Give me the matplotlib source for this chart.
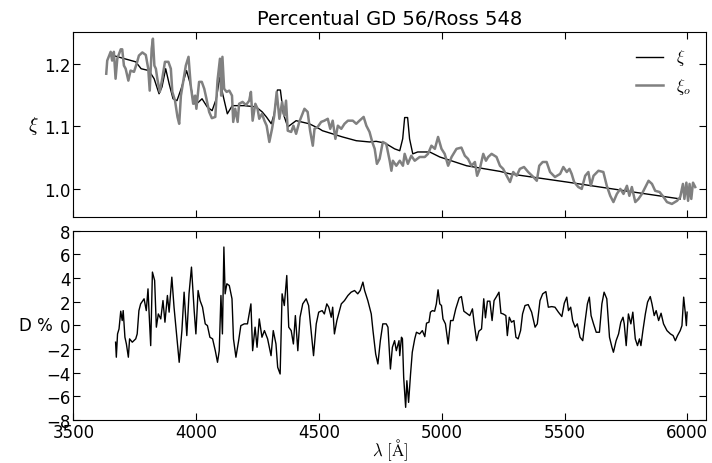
import matplotlib
matplotlib.use('Agg')
import matplotlib.pyplot as plt

plt.rcParams['mathtext.fontset'] = 'cm'
plt.rcParams['font.size'] = 12

# model xi (smooth continuum with Balmer bumps)
wl_model = [3672, 3754, 3776, 3808, 3829, 3849, 3861, 3876, 3890, 3906, 3922, 3939, 3961, 3976,
            3992, 4008, 4024, 4045, 4065, 4082, 4096, 4108, 4127, 4147, 4196, 4244, 4269, 4286,
            4306, 4318, 4331, 4343, 4355, 4373, 4407, 4461, 4502, 4514, 4596, 4652, 4706, 4733,
            4759, 4774, 4808, 4829, 4841, 4849, 4861, 4869, 4882, 4902, 4951, 4992, 5101, 5237,
            5278, 5509, 5780, 5971]
xi_model = [1.212, 1.203, 1.192, 1.189, 1.176, 1.152, 1.163, 1.192, 1.168, 1.144, 1.141, 1.160,
            1.189, 1.168, 1.136, 1.138, 1.144, 1.131, 1.125, 1.144, 1.178, 1.152, 1.120, 1.133,
            1.133, 1.131, 1.123, 1.115, 1.104, 1.120, 1.158, 1.158, 1.120, 1.099, 1.109, 1.104,
            1.096, 1.093, 1.083, 1.077, 1.075, 1.076, 1.074, 1.072, 1.064, 1.061, 1.080, 1.114,
            1.114, 1.080, 1.056, 1.059, 1.059, 1.051, 1.037, 1.028, 1.024, 1.011, 0.995, 0.984]

# observed xi_o
wl_obs = [3634, 3638, 3652, 3658, 3665, 3672, 3679, 3693, 3699, 3706, 3713, 3724, 3733, 3747,
          3760, 3767, 3781, 3795, 3805, 3811, 3819, 3824, 3830, 3836, 3842, 3852, 3862, 3873,
          3887, 3897, 3903, 3914, 3924, 3931, 3938, 3947, 3958, 3969, 3978, 3988, 3996, 4001,
          4012, 4023, 4033, 4042, 4053, 4064, 4078, 4087, 4097, 4102, 4107, 4114, 4124, 4135,
          4146, 4151, 4159, 4169, 4175, 4189, 4203, 4216, 4223, 4230, 4241, 4250, 4257, 4268,
          4278, 4287, 4298, 4309, 4318, 4328, 4339, 4350, 4359, 4366, 4373, 4387, 4396, 4407,
          4420, 4441, 4454, 4464, 4475, 4482, 4495, 4509, 4522, 4536, 4546, 4556, 4567, 4577,
          4591, 4604, 4618, 4638, 4652, 4665, 4682, 4693, 4706, 4717, 4727, 4736, 4747, 4760,
          4774, 4788, 4795, 4801, 4815, 4829, 4842, 4849, 4862, 4876, 4890, 4910, 4931, 4944,
          4958, 4972, 4985, 4999, 5012, 5026, 5040, 5060, 5080, 5094, 5107, 5121, 5135, 5144,
          5155, 5169, 5180, 5189, 5203, 5223, 5237, 5250, 5267, 5278, 5291, 5305, 5318, 5335,
          5352, 5373, 5387, 5397, 5411, 5427, 5441, 5461, 5482, 5495, 5509, 5520, 5529, 5539,
          5556, 5570, 5584, 5597, 5607, 5618, 5638, 5658, 5672, 5686, 5699, 5713, 5727, 5740,
          5754, 5764, 5774, 5788, 5801, 5815, 5829, 5842, 5856, 5869, 5887, 5903, 5917, 5937,
          5958, 5971, 5982, 5988, 5996, 6003, 6009, 6016, 6023, 6032]
xi_obs = [1.184, 1.205, 1.219, 1.205, 1.219, 1.176, 1.208, 1.223, 1.223, 1.197, 1.192, 1.173,
          1.189, 1.187, 1.203, 1.213, 1.218, 1.214, 1.192, 1.157, 1.224, 1.240, 1.197, 1.192,
          1.176, 1.155, 1.176, 1.203, 1.203, 1.192, 1.155, 1.141, 1.115, 1.104, 1.149, 1.171,
          1.197, 1.211, 1.165, 1.136, 1.149, 1.128, 1.171, 1.171, 1.160, 1.144, 1.123, 1.113,
          1.115, 1.173, 1.208, 1.149, 1.211, 1.160, 1.155, 1.157, 1.149, 1.107, 1.128, 1.107,
          1.136, 1.139, 1.134, 1.141, 1.155, 1.109, 1.136, 1.128, 1.112, 1.120, 1.109, 1.101,
          1.075, 1.096, 1.117, 1.155, 1.112, 1.139, 1.117, 1.141, 1.093, 1.091, 1.101, 1.088,
          1.107, 1.128, 1.123, 1.093, 1.069, 1.096, 1.099, 1.107, 1.109, 1.112, 1.096, 1.109,
          1.080, 1.101, 1.096, 1.104, 1.109, 1.109, 1.104, 1.109, 1.115, 1.101, 1.091, 1.075,
          1.064, 1.040, 1.048, 1.075, 1.072, 1.045, 1.029, 1.045, 1.037, 1.045, 1.037, 1.056,
          1.040, 1.053, 1.045, 1.051, 1.051, 1.056, 1.069, 1.064, 1.083, 1.064, 1.056, 1.037,
          1.051, 1.064, 1.066, 1.053, 1.048, 1.037, 1.043, 1.021, 1.032, 1.056, 1.045, 1.051,
          1.056, 1.051, 1.037, 1.032, 1.019, 1.011, 1.027, 1.021, 1.032, 1.035, 1.027, 1.019,
          1.013, 1.037, 1.043, 1.043, 1.027, 1.019, 1.024, 1.035, 1.027, 1.032, 1.024, 1.011,
          1.003, 1.000, 1.021, 1.027, 1.005, 1.021, 1.029, 1.027, 1.005, 0.989, 0.979, 0.992,
          1.000, 0.992, 1.005, 0.989, 1.003, 0.979, 0.984, 0.992, 1.003, 1.013, 1.008, 0.997,
          0.995, 0.987, 0.979, 0.976, 0.981, 0.987, 1.008, 0.984, 1.010, 0.981, 1.008, 0.984,
          1.010, 1.003]

# percentual difference D
wl_d = [3672, 3675, 3680, 3686, 3693, 3699, 3703, 3710, 3716, 3724, 3729, 3740, 3754, 3760,
        3767, 3774, 3788, 3797, 3804, 3808, 3815, 3822, 3831, 3838, 3846, 3856, 3865, 3873,
        3883, 3890, 3901, 3910, 3920, 3931, 3942, 3951, 3962, 3971, 3981, 3992, 3999, 4008,
        4016, 4026, 4037, 4046, 4056, 4067, 4078, 4087, 4094, 4101, 4107, 4113, 4118, 4125,
        4135, 4146, 4152, 4162, 4173, 4182, 4196, 4209, 4223, 4230, 4240, 4248, 4257, 4268,
        4278, 4291, 4305, 4314, 4325, 4332, 4342, 4350, 4359, 4369, 4377, 4387, 4396, 4404,
        4414, 4423, 4434, 4448, 4458, 4468, 4478, 4489, 4499, 4513, 4522, 4532, 4540, 4550,
        4556, 4563, 4573, 4584, 4591, 4604, 4618, 4631, 4645, 4658, 4668, 4679, 4686, 4699,
        4713, 4720, 4731, 4740, 4750, 4760, 4774, 4781, 4791, 4799, 4808, 4815, 4826, 4829,
        4836, 4840, 4845, 4853, 4858, 4865, 4873, 4880, 4890, 4897, 4910, 4921, 4931, 4938,
        4948, 4954, 4962, 4971, 4978, 4985, 4992, 4999, 5005, 5015, 5026, 5036, 5046, 5057,
        5071, 5080, 5090, 5101, 5114, 5125, 5132, 5142, 5151, 5162, 5171, 5178, 5186, 5196,
        5205, 5213, 5223, 5233, 5241, 5250, 5261, 5267, 5275, 5284, 5294, 5302, 5311, 5321,
        5329, 5339, 5352, 5366, 5380, 5389, 5400, 5411, 5424, 5434, 5448, 5461, 5475, 5489,
        5499, 5509, 5516, 5525, 5533, 5543, 5552, 5563, 5574, 5584, 5593, 5601, 5608, 5618,
        5629, 5642, 5652, 5661, 5672, 5683, 5693, 5699, 5710, 5720, 5729, 5738, 5743, 5751,
        5760, 5770, 5778, 5788, 5797, 5805, 5811, 5819, 5829, 5838, 5849, 5856, 5865, 5873,
        5883, 5893, 5903, 5917, 5931, 5942, 5951, 5960, 5971, 5978, 5985, 5992, 5996, 5999]
d_pct = [-1.42, -2.69, -0.72, -0.30, 1.20, 0.41, 1.25, -1.00, -1.57, -2.69, -1.14, -1.42, -1.14,
         -0.72, 1.25, 1.82, 2.25, 1.25, 3.09, 1.25, -1.71, 4.51, 3.80, -0.15, 0.97, 0.55, 2.10,
         0.27, 2.53, 1.12, 4.08, 1.54, -0.72, -3.12, -0.44, 2.81, -0.86, 2.67, 4.93, 1.25, -0.72,
         2.95, 2.10, 1.54, 0.13, -0.02, -1.00, -1.14, -2.14, -3.12, -2.14, 2.53, -0.72, 6.63,
         2.67, 3.52, 3.37, 2.25, -1.14, -2.69, -1.29, -0.02, 0.13, 0.13, 1.82, -2.14, -0.15,
         -1.85, 0.55, -1.00, -0.44, -1.14, -2.56, -0.44, -1.57, -3.54, -4.11, 2.67, 1.68, 4.22,
         -0.15, -0.44, -1.57, 0.83, -2.14, 0.69, 1.82, 2.25, 1.68, -0.44, -2.56, 0.13, 1.12,
         1.25, 0.97, 1.82, 1.54, 0.69, 1.54, -0.72, 0.41, 1.25, 1.82, 2.10, 2.53, 2.81, 2.95,
         2.67, 2.95, 3.66, 2.95, 2.10, 0.97, -0.44, -2.42, -3.26, -1.29, 0.13, 0.13, -0.15,
         -3.69, -1.85, -1.29, -2.14, -1.29, -2.56, -1.00, -1.14, -4.39, -6.93, -4.68, -6.51,
         -4.11, -2.27, -1.14, -0.58, -0.72, -0.44, -0.95, 0.19, 0.27, 1.12, 1.25, 1.20, 1.82,
         3.01, 1.82, 1.68, 0.55, 0.13, -1.57, 0.41, 0.41, 1.40, 2.33, 2.44, 1.20, 1.03, 0.83,
         1.40, 0.19, -1.29, -0.49, -0.30, 2.25, 0.64, 2.05, 2.05, 0.41, 2.10, 2.44, 2.81, 1.03,
         0.97, 0.83, -0.86, 0.69, 0.27, 0.41, -1.00, -1.14, -0.44, 0.97, 1.68, 1.76, 1.12,
         -0.15, 0.13, 2.10, 2.67, 2.86, 1.54, 1.59, 1.54, 1.12, 0.75, 1.88, 2.39, 1.25, 1.54,
         0.41, -0.15, 0.13, -1.00, -1.29, 0.41, 1.82, 2.39, 0.83, 0.13, -0.58, -0.58, 1.82,
         2.81, 2.25, -1.00, -1.85, -2.27, -1.29, -0.72, 0.27, 0.69, 0.13, -1.71, 0.97, 0.13,
         1.12, -1.14, -1.71, -1.14, -1.71, -0.44, 0.97, 1.97, 2.44, 1.82, 0.83, 1.25, 0.41,
         1.03, 0.13, -0.44, -0.72, -0.86, -1.29, -0.86, -0.44, -0.02, 2.39, 0.97, -0.02, 1.12]

fig = plt.figure(figsize=(7.12, 4.64), dpi=100)
ax1 = fig.add_axes([0.103, 0.530, 0.8886, 0.398])
ax2 = fig.add_axes([0.103, 0.0927, 0.8886, 0.4077], sharex=ax1)

ax1.plot(wl_model, xi_model, color='k', lw=1.0, label=r'$\xi$')
ax1.plot(wl_obs, xi_obs, color='0.5', lw=1.8, label=r'$\xi_o$')
ax1.set_ylim(0.955, 1.25)
ax1.set_yticks([1.0, 1.1, 1.2])
ax1.set_ylabel(r'$\xi$', rotation=0, fontsize=14, va='center', ha='center')
ax1.yaxis.set_label_coords(-0.064, 0.5)
ax1.set_title('Percentual GD 56/Ross 548', fontsize=14)
ax1.legend(loc='upper right', frameon=False, fontsize=12, handlelength=1.6)
plt.setp(ax1.get_xticklabels(), visible=False)

ax2.plot(wl_d, d_pct, color='k', lw=1.0)
ax2.set_ylim(-8, 8)
ax2.set_yticks(range(-8, 9, 2))
ax2.set_xlim(3500, 6076)
ax2.set_xticks([3500, 4000, 4500, 5000, 5500, 6000])
ax2.set_ylabel('D %', rotation=0, va='center', ha='center')
ax2.yaxis.set_label_coords(-0.06, 0.5)
ax2.set_xlabel(r'$\lambda\ [\mathrm{\AA}]$', fontsize=12, labelpad=-3)

for ax in (ax1, ax2):
    ax.tick_params(direction='in', top=True, right=True, length=5, width=0.8, pad=2)

fig.savefig('out.png', dpi=100)
